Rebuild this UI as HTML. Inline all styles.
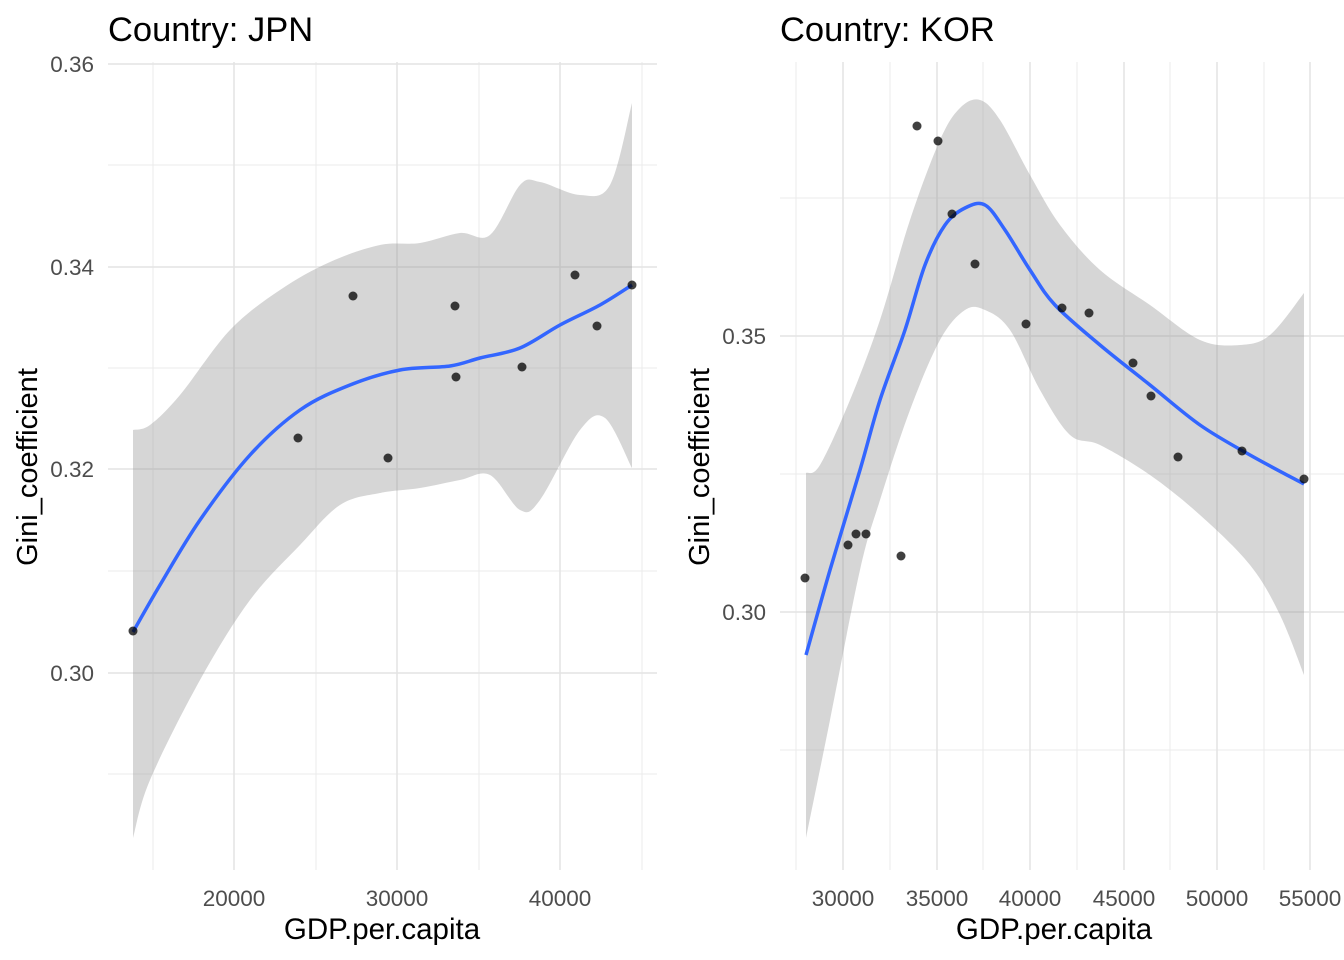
<!DOCTYPE html>
<html><head><meta charset="utf-8"><style>body{margin:0;background:#fff}svg{display:block}</style></head><body>
<svg width="1344" height="960" xmlns="http://www.w3.org/2000/svg" font-family="Liberation Sans, sans-serif">
<rect width="1344" height="960" fill="#fff"/>
<g stroke="#ebebeb" stroke-width="1">
<line x1="108" x2="657" y1="165" y2="165"/><line x1="108" x2="657" y1="368" y2="368"/><line x1="108" x2="657" y1="571" y2="571"/><line x1="108" x2="657" y1="774" y2="774"/>
<line x1="153" x2="153" y1="62" y2="870"/><line x1="316" x2="316" y1="62" y2="870"/><line x1="479" x2="479" y1="62" y2="870"/><line x1="642" x2="642" y1="62" y2="870"/>
</g>
<g stroke="#e3e3e3" stroke-width="1.5">
<line x1="108" x2="657" y1="64" y2="64"/><line x1="108" x2="657" y1="267" y2="267"/><line x1="108" x2="657" y1="469" y2="469"/><line x1="108" x2="657" y1="673" y2="673"/>
<line x1="234" x2="234" y1="62" y2="870"/><line x1="397" x2="397" y1="62" y2="870"/><line x1="560" x2="560" y1="62" y2="870"/>
</g>
<path id="b1" fill="#999" fill-opacity="0.4"/>
<path id="l1" fill="none" stroke="#3366ff" stroke-width="3.5"/>
<g fill="#000" fill-opacity="0.75">
<circle cx="133" cy="631" r="4.5"/><circle cx="298" cy="438" r="4.5"/><circle cx="353" cy="296" r="4.5"/><circle cx="388" cy="458" r="4.5"/><circle cx="455" cy="306" r="4.5"/><circle cx="456" cy="377" r="4.5"/><circle cx="522" cy="367" r="4.5"/><circle cx="575" cy="275" r="4.5"/><circle cx="597" cy="326" r="4.5"/><circle cx="632" cy="285" r="4.5"/>
</g>
<g fill="#4d4d4d" font-size="22.5" text-anchor="end">
<text x="94" y="72">0.36</text><text x="94" y="275">0.34</text><text x="94" y="477">0.32</text><text x="94" y="681">0.30</text>
</g>
<g fill="#4d4d4d" font-size="22.5" text-anchor="middle">
<text x="234" y="906">20000</text><text x="397" y="906">30000</text><text x="560" y="906">40000</text>
</g>
<text x="382" y="939" font-size="29.5" text-anchor="middle">GDP.per.capita</text>
<text transform="translate(37,467) rotate(-90)" font-size="29" text-anchor="middle">Gini_coefficient</text>
<text x="108" y="41" font-size="34.5">Country: JPN</text>

<g stroke="#ebebeb" stroke-width="1">
<line x1="780" x2="1344" y1="198" y2="198"/><line x1="780" x2="1344" y1="474" y2="474"/><line x1="780" x2="1344" y1="750" y2="750"/>
<line x1="796" x2="796" y1="62" y2="870"/><line x1="890" x2="890" y1="62" y2="870"/><line x1="983" x2="983" y1="62" y2="870"/><line x1="1077" x2="1077" y1="62" y2="870"/><line x1="1170" x2="1170" y1="62" y2="870"/><line x1="1264" x2="1264" y1="62" y2="870"/>
</g>
<g stroke="#e3e3e3" stroke-width="1.5">
<line x1="780" x2="1344" y1="336" y2="336"/><line x1="780" x2="1344" y1="612" y2="612"/>
<line x1="843" x2="843" y1="62" y2="870"/><line x1="937" x2="937" y1="62" y2="870"/><line x1="1030" x2="1030" y1="62" y2="870"/><line x1="1124" x2="1124" y1="62" y2="870"/><line x1="1217" x2="1217" y1="62" y2="870"/><line x1="1310" x2="1310" y1="62" y2="870"/>
</g>
<path id="b2" fill="#999" fill-opacity="0.4"/>
<path id="l2" fill="none" stroke="#3366ff" stroke-width="3.5"/>
<g fill="#000" fill-opacity="0.75">
<circle cx="805" cy="578" r="4.5"/><circle cx="848" cy="545" r="4.5"/><circle cx="856" cy="534" r="4.5"/><circle cx="866" cy="534" r="4.5"/><circle cx="901" cy="556" r="4.5"/><circle cx="917" cy="126" r="4.5"/><circle cx="938" cy="141" r="4.5"/><circle cx="952" cy="214" r="4.5"/><circle cx="975" cy="264" r="4.5"/><circle cx="1026" cy="324" r="4.5"/><circle cx="1062" cy="308" r="4.5"/><circle cx="1089" cy="313" r="4.5"/><circle cx="1133" cy="363" r="4.5"/><circle cx="1151" cy="396" r="4.5"/><circle cx="1178" cy="457" r="4.5"/><circle cx="1242" cy="451" r="4.5"/><circle cx="1304" cy="479" r="4.5"/>
</g>
<g fill="#4d4d4d" font-size="22.5" text-anchor="end">
<text x="766" y="344">0.35</text><text x="766" y="620">0.30</text>
</g>
<g fill="#4d4d4d" font-size="22.5" text-anchor="middle">
<text x="843" y="906">30000</text><text x="937" y="906">35000</text><text x="1030" y="906">40000</text><text x="1124" y="906">45000</text><text x="1217" y="906">50000</text><text x="1310" y="906">55000</text>
</g>
<text x="1054" y="939" font-size="29.5" text-anchor="middle">GDP.per.capita</text>
<text transform="translate(709,467) rotate(-90)" font-size="29" text-anchor="middle">Gini_coefficient</text>
<text x="780" y="41" font-size="34.5">Country: KOR</text>
</svg>
<script>
function cr(p){var d="M"+p[0][0]+","+p[0][1];for(var i=0;i<p.length-1;i++){var a=p[i-1]||p[i],b=p[i],c=p[i+1],e=p[i+2]||c;d+=" C"+(b[0]+(c[0]-a[0])/6)+","+(b[1]+(c[1]-a[1])/6)+" "+(c[0]-(e[0]-b[0])/6)+","+(c[1]-(e[1]-b[1])/6)+" "+c[0]+","+c[1];}return d;}
function band(u,l){var s=cr(u);var r=l.slice().reverse();var t=cr(r);return s+" L"+t.slice(1)+" Z";}
var u1=[[133,430],[150,425],[180,395],[230,330],[280,290],[330,262],[380,245],[420,243],[460,233],[490,235],[520,185],[540,182],[580,195],[610,185],[632,103]];
var lo1=[[133,838],[150,780],[200,680],[250,600],[300,545],[340,505],[380,493],[420,488],[460,480],[490,475],[520,510],[540,500],[580,430],[605,418],[632,468]];
var ln1=[[133,632],[160,585],[200,520],[250,455],[300,410],[350,385],[400,370],[450,366],[480,358],[520,348],[560,325],[600,305],[632,285]];
var u2=[[806,473],[820,465],[850,400],[880,320],[910,220],[940,140],[960,108],[980,100],[1000,120],[1030,175],[1060,225],[1100,270],[1150,305],[1200,340],[1240,345],[1270,335],[1304,293]];
var lo2=[[806,838],[830,720],[860,570],[880,500],[910,410],[940,340],[965,310],[985,310],[1010,330],[1040,390],[1070,435],[1100,445],[1150,475],[1200,515],[1250,565],[1280,615],[1304,675]];
var ln2=[[806,655],[830,570],[860,470],[880,400],[905,330],[925,265],[945,225],[965,208],[985,205],[1005,230],[1030,270],[1055,305],[1100,345],[1150,385],[1200,425],[1250,455],[1304,484]];
document.getElementById("b1").setAttribute("d",band(u1,lo1));
document.getElementById("l1").setAttribute("d",cr(ln1));
document.getElementById("b2").setAttribute("d",band(u2,lo2));
document.getElementById("l2").setAttribute("d",cr(ln2));
</script>
</body></html>
